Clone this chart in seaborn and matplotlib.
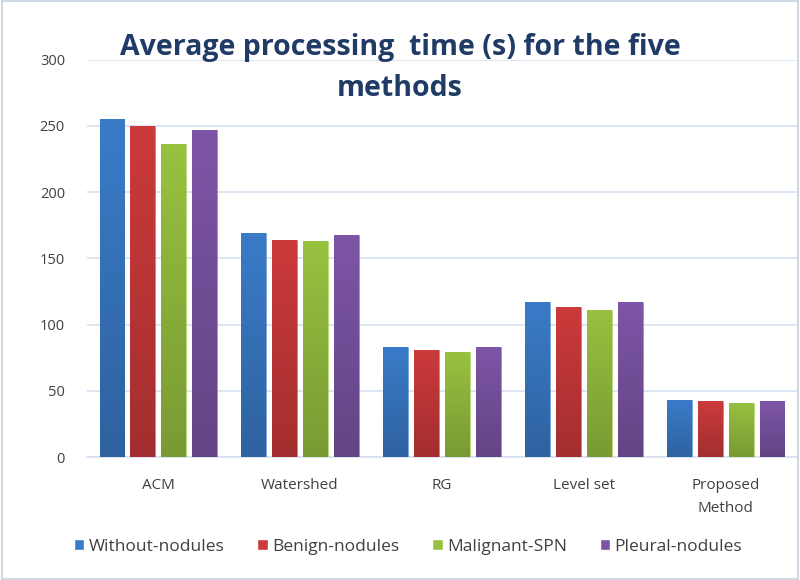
import numpy as np
import pandas as pd
import matplotlib
matplotlib.use("Agg")
import matplotlib.pyplot as plt
import matplotlib.colors as mcolors
import seaborn as sns

# chart data
methods = ["ACM", "Watershed", "RG", "Level set", "Proposed\nMethod"]
groups = ["Without-nodules", "Benign-nodules", "Malignant-SPN", "Pleural-nodules"]
without_nodules = [255, 169, 83, 117, 43]
benign_nodules = [250, 164, 81, 113, 42]
malignant_spn = [236, 163, 79, 111, 41]
pleural_nodules = [247, 168, 83, 117, 42]
y_ticks = [0, 50, 100, 150, 200, 250, 300]

colors = ["#3a7bc8", "#cc3a3b", "#98c140", "#7d55a6"]

rows = []
for g, vals in zip(groups, [without_nodules, benign_nodules, malignant_spn, pleural_nodules]):
    for m, v in zip(methods, vals):
        rows.append({"method": m, "group": g, "time": v})
df = pd.DataFrame(rows)

sns.set_style("white")
plt.rcParams["font.family"] = ["Open Sans", "DejaVu Sans"]

fig = plt.figure(figsize=(8, 5.8), dpi=100)
ax = fig.add_axes([0.109, 0.212, 0.887, 0.685])

sns.barplot(data=df, x="method", y="time", hue="group", palette=colors,
            order=methods, hue_order=groups, width=0.87, gap=0.2,
            saturation=1, ax=ax, zorder=3)

# soft vertical gradient on each bar, darker towards the base
for bar in ax.patches:
    w, h = bar.get_width(), bar.get_height()
    if h <= 0:
        continue
    x0, y0 = bar.get_x(), bar.get_y()
    base = np.array(mcolors.to_rgb(bar.get_facecolor()))
    top = base
    bottom = base * 0.8
    t = np.linspace(0, 1, 64)[:, None]
    grad = (top * (1 - t) + bottom * t)[:, None, :]
    im = ax.imshow(grad, extent=[x0, x0 + w, y0, y0 + h], aspect="auto",
                   origin="upper", zorder=3.5)
    im.set_clip_path(bar)
    bar.set_edgecolor(tuple(base) + (0.35,))
    bar.set_linewidth(0.6)

ax.set_xlim(-0.5, 4.5)
ax.set_ylim(0, 300)
ax.set_yticks(y_ticks)
ax.yaxis.grid(True, color="#d6e0ef", linewidth=1.2, zorder=0)
ax.set_axisbelow(True)
ax.set_xlabel("")
ax.set_ylabel("")
for s in ["top", "right", "left"]:
    ax.spines[s].set_visible(False)
ax.spines["bottom"].set_color("#d6e0ef")
ax.spines["bottom"].set_linewidth(1.2)
ax.tick_params(axis="y", length=0, pad=16, labelsize=10.5, labelcolor="#404040")
ax.tick_params(axis="x", length=0, pad=15, labelsize=11, labelcolor="#404040")
for lbl in ax.get_xticklabels():
    lbl.set_linespacing(1.75)

handles, labels = ax.get_legend_handles_labels()
ax.get_legend().remove()
fig.legend(handles, labels, loc="center", bbox_to_anchor=(0.51, 0.057), ncol=4,
           frameon=False, fontsize=12.5, handlelength=0.6, handleheight=0.6,
           handletextpad=0.25, columnspacing=1.9, labelcolor="#404040")

fig.text(0.5, 0.918, "Average processing  time (s) for the five", ha="center",
         va="center", fontsize=20.5, fontweight="bold", color="#1f3b66")
fig.text(0.5, 0.848, "methods", ha="center", va="center", fontsize=20.5,
         fontweight="bold", color="#1f3b66")

# light frame round the chart
fig.patches.append(plt.Rectangle((0.002, 0.002), 0.996, 0.996, transform=fig.transFigure,
                                 fill=False, edgecolor="#d0d8e4", linewidth=1.5))

fig.savefig("out.png", dpi=100)
